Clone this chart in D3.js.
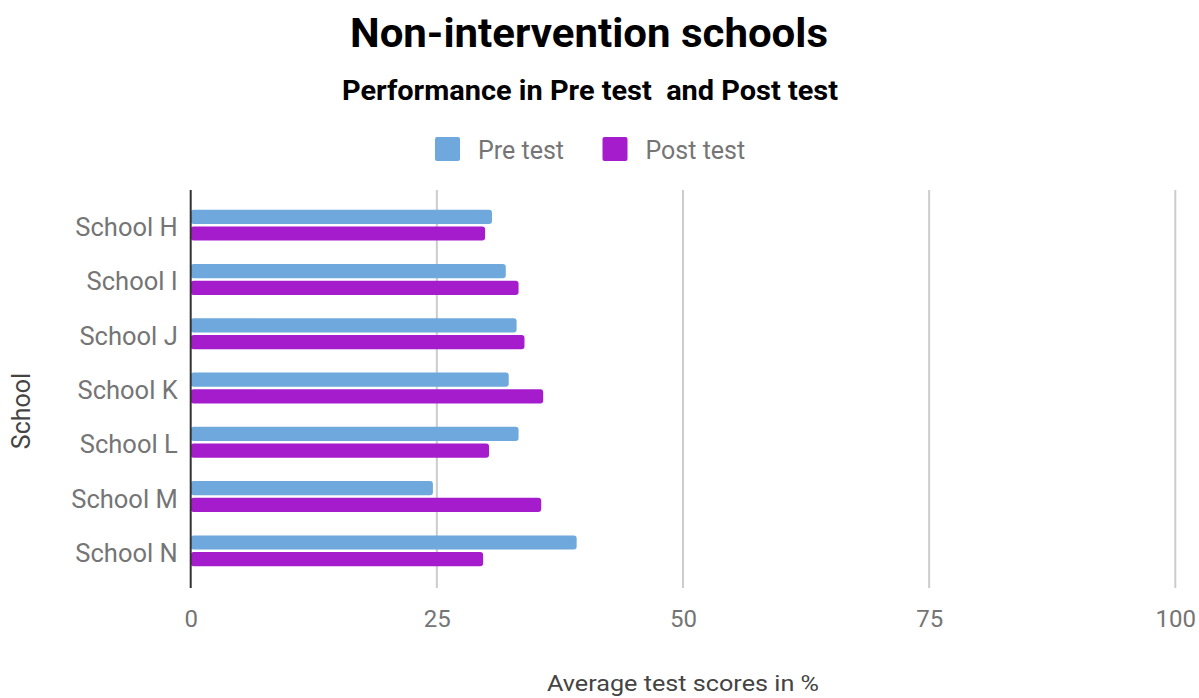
<!DOCTYPE html>
<html>
<head>
<meta charset="utf-8">
<script src="https://cdn.jsdelivr.net/npm/d3@7"></script>
<style>
  html, body { margin: 0; padding: 0; background: #fff; }
  svg { display: block; font-family: Roboto, "Noto Sans", sans-serif; }
</style>
</head>
<body>
<svg id="chart" width="1199" height="698"></svg>
<script>
// Average test scores (%) per school
const schools = ["School H", "School I", "School J", "School K", "School L", "School M", "School N"];
const seriesNames = ["Pre test", "Post test"];
const preTest  = [30.6, 32.0, 33.1, 32.3, 33.3, 24.6, 39.2];
const postTest = [29.9, 33.3, 33.9, 35.8, 30.3, 35.6, 29.7];
const xTicks = [0, 25, 50, 75, 100];
const seriesColors = ["#6fa8dc", "#a51ccd"];

const rows = schools.map((s, i) => ({ school: s, values: [preTest[i], postTest[i]] }));

const svg = d3.select("#chart");

const plot = { left: 190.7, right: 1175.3, top: 190, bottom: 588 };

const x = d3.scaleLinear().domain([0, 100]).range([plot.left, plot.right]);
const y0 = d3.scaleBand().domain(schools).range([198, 578]).paddingInner(0.43).paddingOuter(0.215);
const y1 = d3.scaleBand().domain(seriesNames).range([0, y0.bandwidth()]).paddingInner(0.15);

// Titles
svg.append("text").attr("x", 589).attr("y", 47).attr("text-anchor", "middle")
  .attr("font-size", 40).attr("font-weight", 700).attr("fill", "#000")
  .attr("textLength", 478).attr("lengthAdjust", "spacingAndGlyphs")
  .text("Non-intervention schools");
svg.append("text").attr("x", 590).attr("y", 99.5).attr("text-anchor", "middle")
  .attr("font-size", 27).attr("font-weight", 700).attr("fill", "#000")
  .attr("textLength", 496).attr("lengthAdjust", "spacingAndGlyphs")
  .style("white-space", "pre")
  .text("Performance in Pre test  and Post test");

// Legend
const legendItems = [
  { name: seriesNames[0], color: seriesColors[0], x: 435 },
  { name: seriesNames[1], color: seriesColors[1], x: 602.5 }
];
const lg = svg.append("g");
legendItems.forEach(d => {
  lg.append("rect").attr("x", d.x).attr("y", 137).attr("width", 25).attr("height", 24)
    .attr("rx", 2).attr("fill", d.color);
  lg.append("text").attr("x", d.x + 43).attr("y", 159).attr("font-size", 25)
    .attr("fill", "#757575").text(d.name);
});

// Vertical gridlines
svg.append("g").selectAll("line").data(xTicks.filter(t => t > 0)).join("line")
  .attr("x1", d => x(d)).attr("x2", d => x(d))
  .attr("y1", plot.top).attr("y2", plot.bottom)
  .attr("stroke", "#cccccc").attr("stroke-width", 2);

// X axis tick labels
const xAxis = d3.axisBottom(x).tickValues(xTicks).tickSize(0).tickPadding(0);
const xg = svg.append("g").attr("transform", `translate(0, ${plot.bottom})`).call(xAxis);
xg.select(".domain").remove();
xg.selectAll("text").attr("dy", null).attr("y", 39).attr("font-size", 24)
  .attr("font-family", "Roboto, sans-serif").attr("fill", "#757575");

// Bars
const groups = svg.append("g").selectAll("g").data(rows).join("g")
  .attr("transform", d => `translate(0, ${y0(d.school)})`);
groups.selectAll("rect").data(d => d.values.map((v, i) => ({ v, i }))).join("rect")
  .attr("x", x(0))
  .attr("y", d => y1(seriesNames[d.i]))
  .attr("width", d => x(d.v) - x(0))
  .attr("height", y1.bandwidth())
  .attr("rx", 3)
  .attr("fill", d => seriesColors[d.i]);

// Y axis with category labels
const yAxis = d3.axisLeft(y0).tickSize(0).tickPadding(13);
const yg = svg.append("g").attr("transform", `translate(${x(0)}, 0)`).call(yAxis);
yg.select(".domain").remove();
yg.selectAll("text").attr("font-size", 25.5).attr("font-family", "Roboto, sans-serif")
  .attr("fill", "#757575").attr("dy", "0.43em");

// Baseline at zero
svg.append("line").attr("x1", x(0)).attr("x2", x(0))
  .attr("y1", plot.top).attr("y2", plot.bottom)
  .attr("stroke", "#333333").attr("stroke-width", 2);

// Axis titles
svg.append("text").attr("x", 683).attr("y", 691).attr("text-anchor", "middle")
  .attr("font-size", 22.5).attr("fill", "#444444")
  .attr("textLength", 272).attr("lengthAdjust", "spacingAndGlyphs")
  .text("Average test scores in %");
svg.append("text").attr("transform", "translate(30, 411) rotate(-90)")
  .attr("text-anchor", "middle").attr("font-size", 25).attr("fill", "#444444")
  .text("School");
</script>
</body>
</html>
